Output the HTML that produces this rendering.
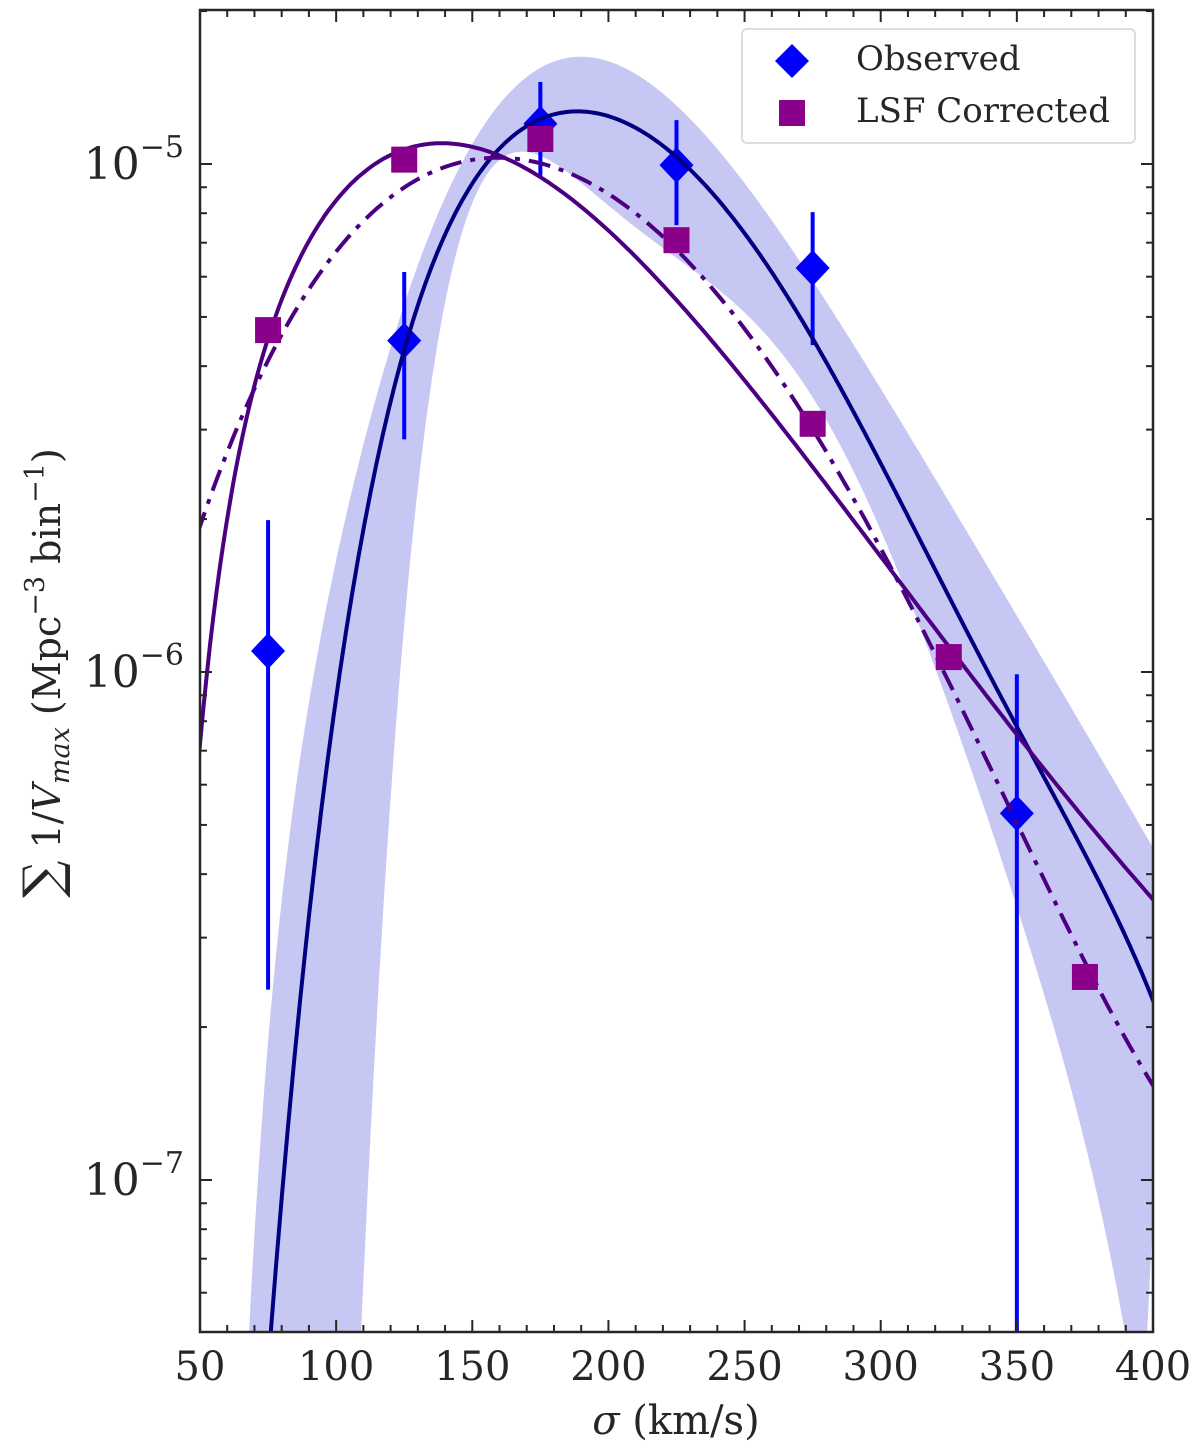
<!DOCTYPE html>
<html><head><meta charset="utf-8"><style>
body{margin:0;background:#fff}
svg text{font-family:"DejaVu Serif","Liberation Serif",serif;fill:#262626}
</style></head><body>
<svg id="chart" width="1200" height="1450" xmlns="http://www.w3.org/2000/svg">
<defs><clipPath id="clip"><rect x="200" y="10" width="953" height="1322"/></clipPath></defs>
<g id="plot" clip-path="url(#clip)"></g>
<g id="axes"></g>
<g id="legend">
<rect x="742" y="29" width="393" height="114" rx="5" fill="#fff" fill-opacity="0.85" stroke="#ddd" stroke-width="2"/>
<path d="M792,44 L809,61 L792,78 L775,61 Z" fill="#0000ff"/>
<text x="856" y="70" font-size="34">Observed</text>
<rect x="779" y="100" width="26" height="26" fill="#8b008b"/>
<text x="856" y="122" font-size="34">LSF Corrected</text>
</g>
<text x="676" y="1434" font-size="40" text-anchor="middle"><tspan font-style="italic">σ</tspan> (km/s)</text>
<text transform="translate(60,673) rotate(-90)" font-size="38" text-anchor="middle"><tspan font-size="52">∑</tspan> 1/<tspan font-style="italic">V</tspan><tspan font-style="italic" font-size="27" dy="9">max</tspan><tspan dy="-9"> (Mpc</tspan><tspan font-size="27" dy="-16">−3</tspan><tspan dy="16"> bin</tspan><tspan font-size="27" dy="-16">−1</tspan><tspan dy="16">)</tspan></text>
</svg>
<script>
const obsSigma=[75,125,175,225,275,350];
const obsVal=[1.10e-6,4.49e-6,1.20e-5,9.95e-6,6.24e-6,5.27e-7];
const obsHi=[1.99e-6,6.13e-6,1.45e-5,1.22e-5,8.04e-6,9.9e-7];
const obsLo=[2.37e-7,2.87e-6,9.47e-6,7.58e-6,4.40e-6,1e-9];
const lsfSigma=[75,125,175,225,275,325,375];
const lsfVal=[4.71e-6,1.02e-5,1.12e-5,7.08e-6,3.08e-6,1.07e-6,2.51e-7];
const navySigma=[76,100,125,150,175,187,200,225,250,275,300,325,350,375,400];
const navyLog=[-7.299,-6.055,-5.343,-5.073,-4.909,-4.888,-4.896,-4.982,-5.148,-5.337,-5.606,-5.841,-6.094,-6.374,-6.642];
const purpSigma=[50,60,75,87,100,115,133,150,175,200,225,250,275,300,325,350,375,400];
const purpLog=[-6.154,-5.661,-5.366,-5.201,-5.071,-4.988,-4.949,-4.963,-5.016,-5.132,-5.283,-5.441,-5.606,-5.766,-5.931,-6.114,-6.290,-6.459];
const ddSigma=[50,75,87,100,125,155,175,200,225,250,275,300,325,350,375,400];
const ddLog=[-5.711,-5.386,-5.276,-5.177,-5.041,-4.982,-5.000,-5.057,-5.177,-5.329,-5.524,-5.742,-6.016,-6.311,-6.567,-6.813];
const bandUpSigma=[68,80,100,125,150,175,187,200,225,250,275,300,313,325,350,368,400];
const bandUpLog=[-7.299,-6.449,-5.780,-5.283,-4.945,-4.817,-4.797,-4.801,-4.876,-5.035,-5.238,-5.440,-5.535,-5.690,-5.882,-6.053,-6.346];
const bandLoSigma=[110,116,122,134,150,175,187,200,225,250,275,300,325,339,351,366,390];
const bandLoLog=[-7.299,-6.547,-5.937,-5.510,-5.177,-5.016,-5.000,-5.012,-5.156,-5.329,-5.510,-5.734,-5.967,-6.287,-6.524,-6.758,-7.299];
const xTicks=[50,100,150,200,250,300,350,400];
const yDecades=[-7,-6,-5];

const NS='http://www.w3.org/2000/svg';
const X=s=>200+(s-50)*953/350;
const YL=l=>164+(-5-l)*508;
const Y=v=>YL(Math.log10(v));
function mk(t,a,p){const e=document.createElementNS(NS,t);for(const k in a)e.setAttribute(k,a[k]);p.appendChild(e);return e;}
function polyfit(xs,ys,deg,useLn){const n=deg+1,A=[],b=[];const T=useLn?(s=>(Math.log(s)-Math.log(180))/0.7):(s=>(s-225)/175);
 for(let i=0;i<n;i++){A.push(new Array(n).fill(0));b.push(0);}
 xs.forEach((s,k)=>{const t=T(s);for(let i=0;i<n;i++){b[i]+=ys[k]*t**i;for(let j=0;j<n;j++)A[i][j]+=t**(i+j);}});
 for(let i=0;i<n;i++){let p=i;for(let r=i+1;r<n;r++)if(Math.abs(A[r][i])>Math.abs(A[p][i]))p=r;[A[i],A[p]]=[A[p],A[i]];[b[i],b[p]]=[b[p],b[i]];
  for(let r=i+1;r<n;r++){const f=A[r][i]/A[i][i];for(let c=i;c<n;c++)A[r][c]-=f*A[i][c];b[r]-=f*b[i];}}
 const c=new Array(n).fill(0);for(let i=n-1;i>=0;i--){let s=b[i];for(let j=i+1;j<n;j++)s-=A[i][j]*c[j];c[i]=s/A[i][i];}
 return s=>{const t=T(s);let v=0;for(let i=n-1;i>=0;i--)v=v*t+c[i];return v;};}
function pts(xs,ys,deg,useLn){const f=polyfit(xs,ys,deg,useLn),out=[];const a=xs[0]-6,b=xs[xs.length-1]+6;for(let s=a;s<=b+1e-9;s+=(b-a)/300)out.push([X(s),Math.max(-50,Math.min(1500,YL(f(s))))]);return out;}
const toD=p=>p.map((q,i)=>(i?'L':'M')+q[0].toFixed(1)+','+q[1].toFixed(1)).join(' ');
const plot=document.getElementById('plot'),axes=document.getElementById('axes');
obsSigma.forEach((s,i)=>{const x=X(s),y=Y(obsVal[i]);
 const e=mk('path',{d:`M${x},${y-18} L${x+17},${y} L${x},${y+18} L${x-17},${y} Z`,fill:'#0000ff'},plot);
 
 });
const up=pts(bandUpSigma,bandUpLog,6,true),lo=pts(bandLoSigma,bandLoLog,6,false).reverse();
const band=mk('path',{d:toD(up.concat(lo))+' Z',fill:'#0000cc','fill-opacity':0.22},plot);


obsSigma.forEach((s,i)=>{const x=X(s);
 const e=mk('line',{x1:x,x2:x,y1:Y(obsHi[i]),y2:Math.min(Y(obsLo[i]),1340),stroke:'#0000ff','stroke-width':4},plot);
 
 });
function curve(sg,lg,deg,useLn,col,dash,name){const e=mk('path',{d:toD(pts(sg,lg,deg,useLn)),fill:'none',stroke:col,'stroke-width':4},plot);if(dash)e.setAttribute('stroke-dasharray',dash);
 
 }
curve(navySigma,navyLog,6,false,'#000080',null,'observed-fit-curve');
curve(purpSigma,purpLog,5,true,'#4b0082',null,'lsf-fit-curve');
curve(ddSigma,ddLog,5,false,'#4b0082','22,9,5,9','lsf-alt-fit-curve');
lsfSigma.forEach((s,i)=>{const x=X(s),y=Y(lsfVal[i]);
 const e=mk('rect',{x:x-13,y:y-13,width:26,height:26,fill:'#8b008b'},plot);
 
 });
const fr=mk('rect',{x:200,y:10,width:953,height:1322,fill:'none',stroke:'#262626','stroke-width':2.5},axes);


for(let s=50;s<=400;s+=10){const x=X(s),maj=(s%50===0),L=maj?12:7;
 mk('line',{x1:x,x2:x,y1:1332,y2:1332-L,stroke:'#262626','stroke-width':2},axes);
 mk('line',{x1:x,x2:x,y1:10,y2:10+L,stroke:'#262626','stroke-width':2},axes);}
xTicks.forEach(s=>{const t=mk('text',{x:X(s),y:1380,'font-size':40,'text-anchor':'middle'},axes);t.textContent=s;
 
 });
for(let d=-8;d<=-5;d++)for(let m=1;m<10;m++){const y=YL(d+Math.log10(m));if(y<10||y>1332)continue;const L=m===1?12:7;
 mk('line',{x1:200,x2:200+L,y1:y,y2:y,stroke:'#262626','stroke-width':2},axes);
 mk('line',{x1:1153,x2:1153-L,y1:y,y2:y,stroke:'#262626','stroke-width':2},axes);}
yDecades.forEach(d=>{const t=mk('text',{x:184,y:YL(d)+15,'font-size':44,'text-anchor':'end'},axes);
 t.innerHTML='10<tspan font-size="30" dy="-22">−'+(-d)+'</tspan>';
 
 });
</script>
</body></html>
